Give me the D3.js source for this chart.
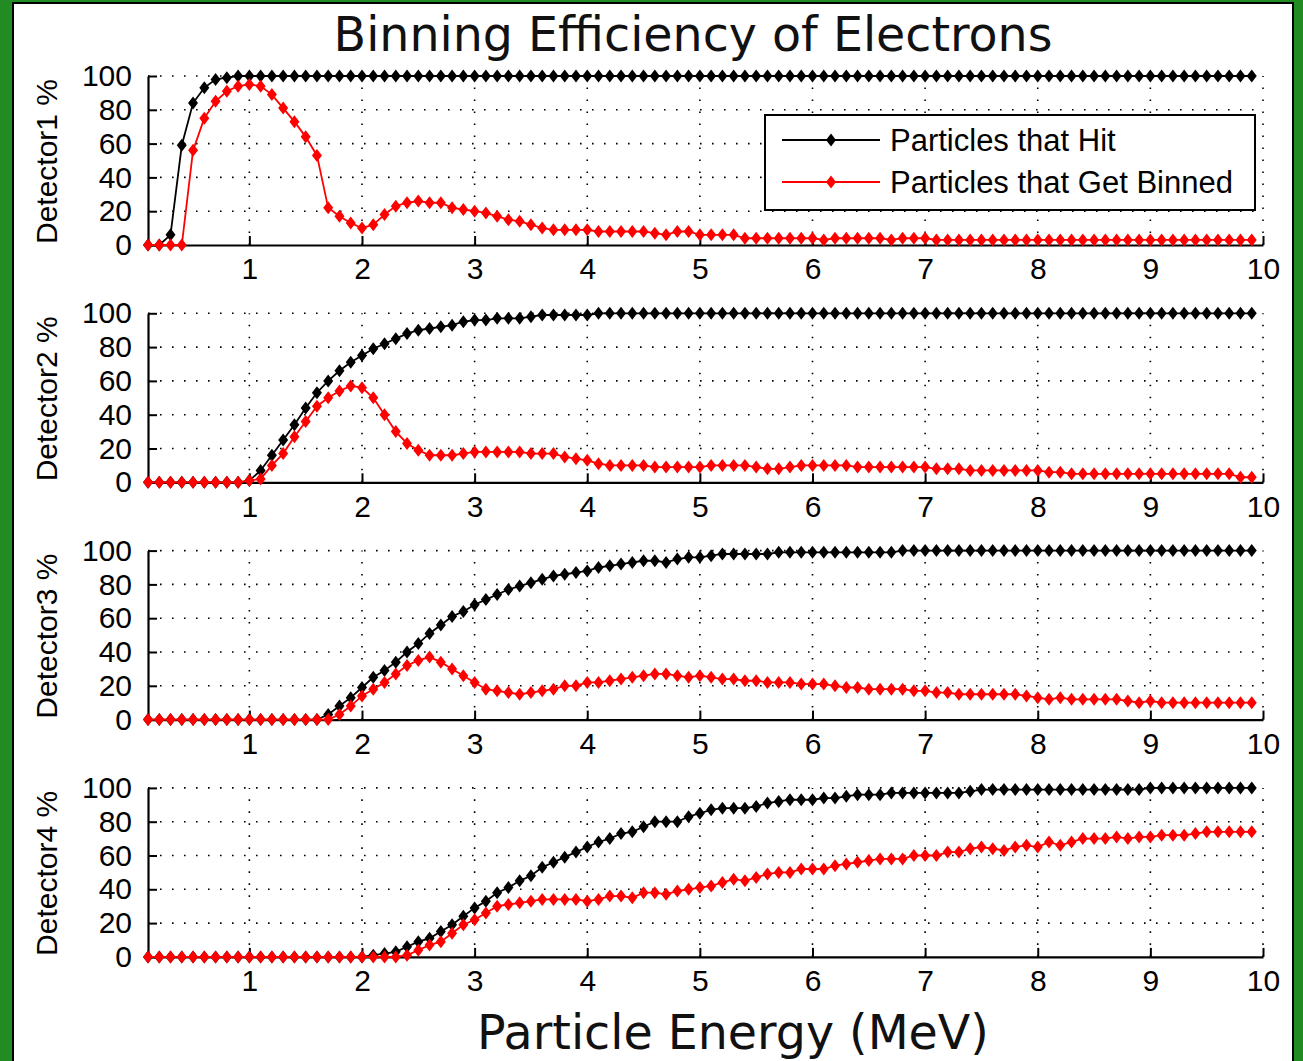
<!DOCTYPE html>
<html>
<head>
<meta charset="utf-8">
<script src="https://cdn.jsdelivr.net/npm/d3@7"></script>
<style>
  html, body { margin: 0; padding: 0; background: #228b22; }
  svg { display: block; }
</style>
</head>
<body>
<div id="vis"></div>
<script>
// particle energy (MeV), one sample every 0.1
const energy = [
  0.1, 0.2, 0.3, 0.4, 0.5, 0.6, 0.7, 0.8, 0.9, 1.0,
  1.1, 1.2, 1.3, 1.4, 1.5, 1.6, 1.7, 1.8, 1.9, 2.0,
  2.1, 2.2, 2.3, 2.4, 2.5, 2.6, 2.7, 2.8, 2.9, 3.0,
  3.1, 3.2, 3.3, 3.4, 3.5, 3.6, 3.7, 3.8, 3.9, 4.0,
  4.1, 4.2, 4.3, 4.4, 4.5, 4.6, 4.7, 4.8, 4.9, 5.0,
  5.1, 5.2, 5.3, 5.4, 5.5, 5.6, 5.7, 5.8, 5.9, 6.0,
  6.1, 6.2, 6.3, 6.4, 6.5, 6.6, 6.7, 6.8, 6.9, 7.0,
  7.1, 7.2, 7.3, 7.4, 7.5, 7.6, 7.7, 7.8, 7.9, 8.0,
  8.1, 8.2, 8.3, 8.4, 8.5, 8.6, 8.7, 8.8, 8.9, 9.0,
  9.1, 9.2, 9.3, 9.4, 9.5, 9.6, 9.7, 9.8, 9.9
];

// "Particles that Hit" (%)
const hit1 = [
  0, 0, 6, 59, 84, 93, 98, 99, 100, 100,
  100, 100, 100, 100, 100, 100, 100, 100, 100, 100,
  100, 100, 100, 100, 100, 100, 100, 100, 100, 100,
  100, 100, 100, 100, 100, 100, 100, 100, 100, 100,
  100, 100, 100, 100, 100, 100, 100, 100, 100, 100,
  100, 100, 100, 100, 100, 100, 100, 100, 100, 100,
  100, 100, 100, 100, 100, 100, 100, 100, 100, 100,
  100, 100, 100, 100, 100, 100, 100, 100, 100, 100,
  100, 100, 100, 100, 100, 100, 100, 100, 100, 100,
  100, 100, 100, 100, 100, 100, 100, 100, 100
];
const hit2 = [
  0, 0, 0, 0, 0, 0, 0, 0, 0, 1,
  7, 16, 25, 34, 44, 53, 60, 66, 71, 75,
  79, 82, 85, 88, 90, 91, 92, 93, 95, 96,
  96, 97, 97, 97, 98, 99, 99, 99, 99, 99,
  100, 100, 100, 100, 100, 100, 100, 100, 100, 100,
  100, 100, 100, 100, 100, 100, 100, 100, 100, 100,
  100, 100, 100, 100, 100, 100, 100, 100, 100, 100,
  100, 100, 100, 100, 100, 100, 100, 100, 100, 100,
  100, 100, 100, 100, 100, 100, 100, 100, 100, 100,
  100, 100, 100, 100, 100, 100, 100, 100, 100
];
const hit3 = [
  0, 0, 0, 0, 0, 0, 0, 0, 0, 0,
  0, 0, 0, 0, 0, 0, 3, 8, 13, 19,
  25, 29, 34, 40, 45, 51, 56, 61, 64, 68,
  71, 74, 77, 79, 81, 83, 85, 86, 87, 88,
  90, 91, 92, 93, 94, 94, 93, 95, 96, 96,
  97, 98, 98, 98, 98, 98, 99, 99, 99, 99,
  99, 99, 99, 99, 99, 99, 99, 100, 100, 100,
  100, 100, 100, 100, 100, 100, 100, 100, 100, 100,
  100, 100, 100, 100, 100, 100, 100, 100, 100, 100,
  100, 100, 100, 100, 100, 100, 100, 100, 100
];
const hit4 = [
  0, 0, 0, 0, 0, 0, 0, 0, 0, 0,
  0, 0, 0, 0, 0, 0, 0, 0, 0, 0,
  1, 2, 3, 6, 9, 11, 15, 19, 24, 29,
  33, 38, 41, 45, 48, 53, 56, 59, 62, 65,
  68, 70, 73, 74, 77, 80, 80, 80, 83, 85,
  87, 88, 88, 88, 89, 91, 92, 93, 93, 93,
  94, 94, 95, 96, 96, 96, 97, 97, 97, 97,
  97, 97, 97, 98, 99, 99, 99, 99, 99, 99,
  99, 99, 99, 99, 99, 99, 99, 99, 99, 100,
  100, 100, 100, 100, 100, 100, 100, 100, 100
];

// "Particles that Get Binned" (%)
const bin1 = [
  0, 0, 0, 0, 56, 75, 85, 91, 94, 95,
  94, 89, 81, 73, 64, 53, 22, 17, 13, 10,
  12, 18, 23, 25, 26, 25, 25, 22, 21, 20,
  19, 17, 15, 14, 12, 10, 9, 9, 9, 9,
  8, 8, 8, 8, 8, 7, 6, 8, 8, 6,
  6, 6, 6, 4, 4, 4, 4, 4, 4, 4,
  3, 4, 4, 4, 4, 4, 3, 4, 4, 4,
  3, 3, 3, 3, 3, 3, 3, 3, 3, 3,
  3, 3, 3, 3, 3, 3, 3, 3, 3, 3,
  3, 3, 3, 3, 3, 3, 3, 3, 3
];
const bin2 = [
  0, 0, 0, 0, 0, 0, 0, 0, 0, 1,
  2, 10, 17, 27, 36, 45, 50, 54, 57, 56,
  50, 40, 30, 23, 19, 16, 16, 16, 17, 18,
  18, 18, 18, 18, 17, 17, 17, 15, 14, 13,
  11, 10, 10, 10, 10, 9, 9, 9, 9, 9,
  10, 10, 10, 10, 9, 8, 8, 9, 10, 10,
  10, 10, 10, 9, 9, 9, 9, 9, 9, 9,
  8, 8, 8, 7, 7, 7, 7, 7, 7, 7,
  6, 6, 5, 5, 5, 5, 5, 5, 5, 5,
  5, 5, 5, 5, 5, 5, 5, 3, 3
];
const bin3 = [
  0, 0, 0, 0, 0, 0, 0, 0, 0, 0,
  0, 0, 0, 0, 0, 0, 0, 3, 8, 14,
  18, 22, 27, 32, 35, 37, 34, 30, 26, 22,
  18, 17, 16, 15, 16, 17, 18, 20, 20, 22,
  22, 23, 24, 25, 26, 27, 27, 26, 25, 26,
  25, 24, 24, 23, 23, 22, 22, 22, 21, 21,
  21, 20, 19, 19, 18, 18, 18, 18, 17, 17,
  16, 16, 15, 15, 15, 15, 15, 15, 14, 13,
  12, 13, 12, 12, 12, 12, 12, 11, 10, 11,
  10, 10, 10, 10, 10, 10, 10, 10, 10
];
const bin4 = [
  0, 0, 0, 0, 0, 0, 0, 0, 0, 0,
  0, 0, 0, 0, 0, 0, 0, 0, 0, 0,
  0, 0, 0, 1, 4, 7, 9, 14, 19, 22,
  26, 30, 31, 32, 33, 34, 34, 34, 34, 33,
  34, 36, 36, 35, 38, 38, 37, 39, 40, 41,
  42, 44, 46, 45, 47, 49, 50, 50, 52, 52,
  52, 54, 55, 56, 57, 58, 58, 58, 60, 60,
  60, 62, 62, 64, 65, 64, 63, 65, 66, 65,
  68, 66, 68, 70, 70, 70, 71, 70, 71, 71,
  72, 72, 72, 73, 74, 74, 74, 74, 74
];

const panelLabels = ["Detector1 %", "Detector2 %", "Detector3 %", "Detector4 %"];
const xTicks = [1, 2, 3, 4, 5, 6, 7, 8, 9, 10];
const yTicks = [0, 20, 40, 60, 80, 100];
const seriesNames = ["Particles that Hit", "Particles that Get Binned"];
const seriesColors = ["#000000", "#ff0000"];

const detectors = [
  { label: panelLabels[0], series: [hit1, bin1] },
  { label: panelLabels[1], series: [hit2, bin2] },
  { label: panelLabels[2], series: [hit3, bin3] },
  { label: panelLabels[3], series: [hit4, bin4] }
];

const W = 1303,
  H = 1061,
  left = 148,
  right = 1263,
  panelTop = 76,
  panelH = 169,
  panelStep = 237.3,
  labelFont = "'Liberation Sans', Arial, sans-serif",
  titleFont = "'DejaVu Sans', sans-serif";

const svg = d3
  .select("#vis")
  .append("svg")
  .attr("width", W)
  .attr("height", H);

// white figure area with black edge inside the green frame
svg
  .append("rect")
  .attr("x", 13)
  .attr("y", 3)
  .attr("width", 1280)
  .attr("height", H + 20)
  .attr("fill", "#fff")
  .attr("stroke", "#000")
  .attr("stroke-width", 2);

const x = d3.scaleLinear().domain([0.1, 10]).range([left, right]);
const diamond = "M0,-6.5L5,0L0,6.5L-5,0Z";

detectors.forEach(function(det, i) {
  const top = panelTop + i * panelStep;
  const y = d3.scaleLinear().domain([0, 100]).range([top + panelH, top]);
  const g = svg.append("g");

  // dotted grid
  g.selectAll(".hgrid")
    .data(yTicks.filter(d => d > 0))
    .join("line")
    .attr("x1", left)
    .attr("x2", right)
    .attr("y1", d => y(d))
    .attr("y2", d => y(d))
    .attr("stroke", "#000")
    .attr("stroke-width", 1.6)
    .attr("stroke-dasharray", "1.6,10.4");
  g.selectAll(".vgrid")
    .data(xTicks)
    .join("line")
    .attr("x1", d => x(d))
    .attr("x2", d => x(d))
    .attr("y1", y(0))
    .attr("y2", y(100))
    .attr("stroke", "#000")
    .attr("stroke-width", 1.6)
    .attr("stroke-dasharray", "1.6,10.4");

  // axes
  const xAxis = g
    .append("g")
    .attr("transform", "translate(0," + y(0) + ")")
    .call(
      d3
        .axisBottom(x)
        .tickValues(xTicks)
        .tickSize(-9)
        .tickSizeOuter(0)
        .tickPadding(13)
    );
  const yAxis = g
    .append("g")
    .attr("transform", "translate(" + left + ",0)")
    .call(
      d3
        .axisLeft(y)
        .tickValues(yTicks)
        .tickSize(-9)
        .tickSizeOuter(0)
        .tickPadding(16)
    );
  [xAxis, yAxis].forEach(function(a) {
    a.select(".domain").attr("stroke-width", 2.2);
    a.selectAll(".tick line").attr("stroke-width", 2);
    a.selectAll("text")
      .attr("font-family", labelFont)
      .attr("font-size", 30)
      .attr("fill", "#000");
  });

  // y label
  g.append("text")
    .attr("transform", "translate(57," + (top + panelH / 2 + 1) + ") rotate(-90)")
    .attr("text-anchor", "middle")
    .attr("font-family", labelFont)
    .attr("font-size", 30)
    .text(det.label);

  // series
  det.series.forEach(function(vals, s) {
    const pts = d3.zip(energy, vals);
    g.append("path")
      .datum(pts)
      .attr("fill", "none")
      .attr("stroke", seriesColors[s])
      .attr("stroke-width", 1.8)
      .attr("d", d3.line().x(d => x(d[0])).y(d => y(d[1])));
    g.selectAll(".m" + s)
      .data(pts)
      .join("path")
      .attr("class", "m" + s)
      .attr("d", diamond)
      .attr("transform", d => "translate(" + x(d[0]) + "," + y(d[1]) + ")")
      .attr("fill", seriesColors[s]);
  });
});

// legend
const legend = svg.append("g");
legend
  .append("rect")
  .attr("x", 765)
  .attr("y", 115)
  .attr("width", 490)
  .attr("height", 95)
  .attr("fill", "#fff")
  .attr("stroke", "#000")
  .attr("stroke-width", 2);
seriesNames.forEach(function(name, s) {
  const ly = 140 + s * 42;
  legend
    .append("line")
    .attr("x1", 782)
    .attr("x2", 880)
    .attr("y1", ly)
    .attr("y2", ly)
    .attr("stroke", seriesColors[s])
    .attr("stroke-width", 1.8);
  legend
    .append("path")
    .attr("d", diamond)
    .attr("transform", "translate(831," + ly + ")")
    .attr("fill", seriesColors[s]);
  legend
    .append("text")
    .attr("x", 890)
    .attr("y", ly)
    .attr("dy", "0.36em")
    .attr("font-family", labelFont)
    .attr("font-size", 31)
    .text(name);
});

// title and x label
svg
  .append("text")
  .attr("x", 693)
  .attr("y", 51)
  .attr("text-anchor", "middle")
  .attr("font-family", titleFont)
  .attr("font-size", 47.5)
  .attr("fill", "#111")
  .text("Binning Efficiency of Electrons");
svg
  .append("text")
  .attr("x", 733)
  .attr("y", 1049)
  .attr("text-anchor", "middle")
  .attr("font-family", titleFont)
  .attr("font-size", 47.5)
  .attr("fill", "#111")
  .text("Particle Energy (MeV)");
</script>
</body>
</html>
